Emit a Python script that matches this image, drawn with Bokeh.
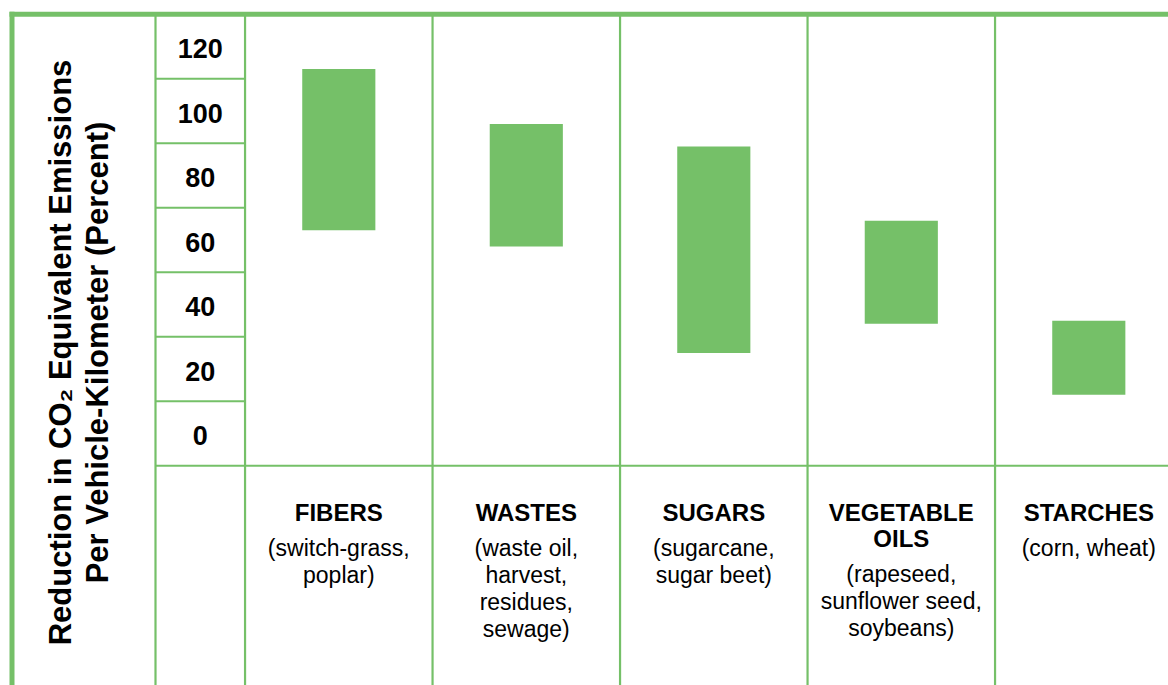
import math
from bokeh.plotting import figure
from bokeh.models import Range1d, ColumnDataSource
from bokeh.core.properties import value
from bokeh.embed import file_html
from bokeh.resources import INLINE

# ---------------- data ----------------
categories = ["FIBERS", "WASTES", "SUGARS", "VEGETABLE\nOILS", "STARCHES"]
subtitles = ["(switch-grass,\npoplar)",
             "(waste oil,\nharvest,\nresidues,\nsewage)",
             "(sugarcane,\nsugar beet)",
             "(rapeseed,\nsunflower seed,\nsoybeans)",
             "(corn, wheat)"]
low_values = [63, 58, 25, 34, 12]
high_values = [113, 96, 89, 66, 35]
tick_values = [120, 100, 80, 60, 40, 20, 0]
y_title_lines = ["Reduction in CO\u2082 Equivalent Emissions",
                 "Per Vehicle-Kilometer (Percent)"]

# ---------------- style ----------------
GREEN = "#75C068"
FONT = "Liberation Sans"
W, H = 1168, 685
ORIGIN = 0                 # page px where the plot frame starts

# page-pixel helpers for layout
X0, XS = 338.3, 187.5      # category index 0 centre, px per category
Y0, YS = 433.0, 3.225      # value 0 position, px per unit

def xd(px):
    return (px - X0) / XS

def yd(py):
    return (Y0 - py) / YS

x_lo, x_hi = xd(ORIGIN), xd(ORIGIN + W)
y_lo, y_hi = yd(ORIGIN + H), yd(ORIGIN)

p = figure(width=W, height=H, x_range=Range1d(x_lo, x_hi), y_range=Range1d(y_lo, y_hi),
           output_backend="svg", toolbar_location=None, min_border=0,
           x_axis_location=None, y_axis_location=None)
p.outline_line_color = None
p.grid.visible = False
p.background_fill_color = "white"
p.border_fill_color = "white"

n = len(categories)
idx = list(range(n))

# ---------------- table lines ----------------
top_v = max(tick_values) + 10
bot_v = min(tick_values) - 10
left_border = xd(11.5)
sep_label = xd(155)
sep_tick = -0.5

# thin vertical lines
vx = [sep_label, sep_tick] + [i + 0.5 for i in range(n - 1)]
p.segment(x0=vx, y0=[top_v] * len(vx), x1=vx, y1=[y_lo - 5] * len(vx),
          line_color=GREEN, line_width=2.2)
# tick cell horizontal lines
hy = [t + 10 for t in tick_values[1:]]
p.segment(x0=[sep_label] * len(hy), y0=hy, x1=[sep_tick] * len(hy), y1=hy,
          line_color=GREEN, line_width=2.2)
# baseline row line
p.segment(x0=[sep_label], y0=[bot_v], x1=[x_hi + 1], y1=[bot_v],
          line_color=GREEN, line_width=2.2)
# outer borders
p.segment(x0=[left_border, left_border], y0=[top_v, top_v], x1=[x_hi + 1, left_border],
          y1=[top_v, y_lo - 10], line_color=GREEN, line_width=5, line_cap="square")

# ---------------- bars ----------------
src = ColumnDataSource(dict(x=idx, bottom=low_values, top=high_values))
p.vbar(x="x", width=0.39, bottom="bottom", top="top", source=src,
       fill_color=GREEN, line_color=None)

# ---------------- tick labels ----------------
tick_x = (sep_label + sep_tick) / 2
p.text(x=[tick_x] * len(tick_values), y=tick_values, text=[str(t) for t in tick_values],
       text_font=value(FONT), text_font_size=value("27px"), text_font_style="bold",
       text_align="center", text_baseline="alphabetic", y_offset=2, text_color="black")

# ---------------- y title ----------------
title_px = [60, 97]
p.text(x=[xd(px) for px in title_px], y=[yd(352)] * 2, text=y_title_lines,
       angle=math.pi / 2, text_font=value(FONT), text_font_size=value("31px"),
       text_font_style="bold", text_align="center", text_baseline="alphabetic",
       text_color="black")

# ---------------- category labels ----------------
tx, ty, toff = [], [], []
sx, sy, soff = [], [], []
for i, (name, sub) in enumerate(zip(categories, subtitles)):
    off = 47
    lines = name.split("\n")
    for k, line in enumerate(lines):
        tx.append(i); ty.append(line); toff.append(off + 26 * k)
    off = off + 26 * (len(lines) - 1) + 35
    for k, line in enumerate(sub.split("\n")):
        sx.append(i); sy.append(line); soff.append(off + 27 * k)

p.text(x=tx, y=[bot_v] * len(tx), text=ty, y_offset=toff,
       text_font=value(FONT), text_font_size=value("24px"), text_font_style="bold",
       text_align="center", text_baseline="alphabetic", text_color="black")
p.text(x=sx, y=[bot_v] * len(sx), text=sy, y_offset=soff,
       text_font=value(FONT), text_font_size=value("23px"), text_font_style="normal",
       text_align="center", text_baseline="alphabetic", text_color="black")

open("out.html", "w").write(file_html(p, INLINE))
